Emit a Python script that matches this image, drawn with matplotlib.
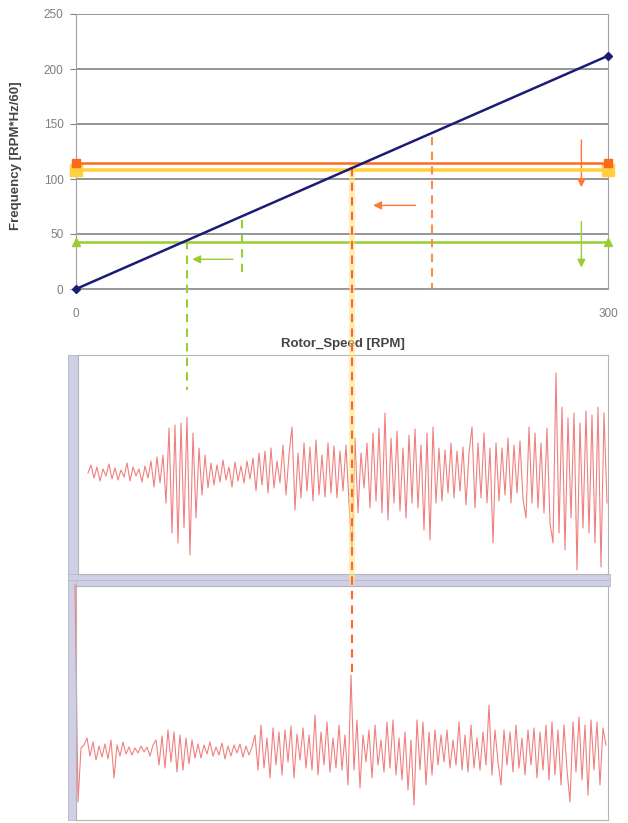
import numpy as np
import matplotlib
matplotlib.use('Agg')
import matplotlib.pyplot as plt

plt.rcParams['font.family'] = ['Liberation Sans', 'DejaVu Sans']

# ---- campbell-type diagram data ----
speed = [0, 300]
freq = [0, 212]
f_orange = 114.5
f_yellow = 108
f_green = 42.5
yticks = [0, 50, 100, 150, 200, 250]
xticks = [0, 300]

# dashed guide lines: (speed, freq top, freq bottom)
dash_orange_long = (155.6, 110, -351)
dash_orange_short = (201, 138, 0)
dash_green_long = (62.6, 44, -92)
dash_green_short = (93.6, 63, 10)

# arrows: (x from, y from, x to, y to)
arrow_orange_left = (193, 76, 166, 76)
arrow_green_left = (90, 27, 64, 27)
arrow_orange_down = (285, 138, 285, 90)
arrow_green_down = (285, 64, 285, 17)

# ---- waveforms (offset from baseline) ----
wave1 = [0, 8, -5, 6, -8, 4, -3, 9, -6, 5, -7, 3, -4, 10, -8, 6, -3, 4, -9, 7, -5,
         12, -14, 16, -10, 18,
         -30, 45, -60, 48, -70, 50, -55, 56, -82, 40, -45,
         25, -22, 18, -15,
         10, -12, 8, -9, 13, -7, 6, -14, 11, -8, 7, -10, 12, -6,
         15, -18, 20, -12, 22, -20, 25, -15, 12, -10, 28, -22, 18,
         46, -37, 20, -25, 30, -18, 26, -28, 33, -22, 18, -24, 30, -20, 27, -25, 22, -18, 28, -30,
         -80, 35, -40, 20,
         -15, 30, -35, 40, -28, 45, -40, 60, -47, 35, -30, 42, -38, 25, -45, 38, -30, 44, -35, 28, -57, 40, -67,
         46, -30, 25, -28, 23, -20, 30, -25, 22, -18, 26, -32, 20,
         46, -35, 30, -25, 40, -30, 25, -70,
         30, -28, 25, -22, 35, -30, 28, -20, 32, -26, -45,
         46, -30, 40, -35, 30, -40, 45, -50, -70,
         100,
         -60, 66, -77, 55, -45, 60, -97, 50,
         -55, 62, -60, 58, -70, 66, -94, 60, -30]

wave2 = [165, -52, 2,
         5, 12, -6, 8, -10, 4, -7, 6, -9, 10, -28, 5, -6, 8, -4, 3, -5, 2, -3, 4, -2, 3, -6, 5,
         10, -15, 14, -18, 20, -12, 18, -22, 15, -20, 12, -14, 10, -8,
         6, -8, 5, -4, 8, -6, 3, -5, 7, -9, 4, -6, 5, -3, 6, -7, 4, -5, 3,
         15, -20, 25, -18, 12, -28, 22, -15, 18, -25, 20, -12, 24, -28, 16, -10,
         22, -18, 15, -20, 35, -25, 18, -15, 28, -22, 12, -18, 25, -20, 15, -35,
         75,
         -20, 30, -38, 15, -12, 20, -28, 25, -15, 10, -22, 28, -18, 30, -25, 12, -30, 18, -40, 10,
         -55,
         30, -20, 28, -35, 18, -25, 20, -15,
         15, -12, 20, -18, 10, -15, 28, -20, 15, -22, 25, -18, 12, -20, 18, -15, 45, -25, 20, -12,
         -35, 20, -15, 18, -22, 25, -18, 12, -25, 20, -15, 22, -28, 18, -20, 25,
         -30, 28, -25, 20, -35, 25, -20, -52,
         28, -22, 33, -30, 25, -45, 30, -20, 28, -35, 22, 5]

W, H = 628, 823
fig = plt.figure(figsize=(W / 100, H / 100), dpi=100)


def rect(x0, y0, x1, y1):
    return [x0 / W, 1 - y1 / H, (x1 - x0) / W, (y1 - y0) / H]


c_orange = '#ff6a1a'
c_yellow = '#ffd040'
c_green = '#9acd32'
c_blue = '#1c1c78'
c_grid = '#8c8c8c'
c_text = '#7f7f7f'
c_wave = '#f08080'
c_strip = '#cfcfe6'

# ---- top chart ----
ax = fig.add_axes(rect(76, 14, 608, 289))
ax.set_zorder(3)
ax.set_xlim(0, 300)
ax.set_ylim(0, 250)
ax.set_yticks(yticks)
ax.set_xticks(xticks)
ax.grid(axis='y', color=c_grid, lw=1.3)
ax.set_axisbelow(True)
ax.spines['top'].set_visible(False)
for s in ['left', 'right', 'bottom']:
    ax.spines[s].set_color('#a0a0a0')
ax.tick_params(axis='y', length=4, color='#808080', labelcolor=c_text, labelsize=8.5, pad=5)
ax.tick_params(axis='x', length=0, labelcolor=c_text, labelsize=8.5, pad=14)

ax.plot(speed, [f_yellow] * 2, color=c_yellow, lw=2.6, marker='s', ms=8, clip_on=False, zorder=4)
ax.plot(speed, [f_orange] * 2, color=c_orange, lw=1.8, marker='s', ms=6, clip_on=False, zorder=4)
ax.plot(speed, [f_green] * 2, color=c_green, lw=1.8, marker='^', ms=6, clip_on=False, zorder=4)

# dashed guides running down into the waveform panels
x, y0, y1 = dash_orange_long
ax.plot([x, x], [y0, -265], color='#ffe680', lw=4, alpha=0.6, clip_on=False, zorder=5)
ax.plot([x, x], [y0, y1], color=c_orange, lw=1.5, ls=(0, (4, 3)), clip_on=False, zorder=5)
for (x, y0, y1), c in [(dash_orange_short, '#ff8c4a'), (dash_green_long, c_green),
                       (dash_green_short, c_green)]:
    ax.plot([x, x], [y0, y1], color=c, lw=1.5, ls=(0, (4, 3)), clip_on=False, zorder=5)

ax.plot(speed, freq, color=c_blue, lw=1.8, marker='D', ms=4, clip_on=False, zorder=6)

for (xa, ya, xb, yb), c in [(arrow_orange_left, '#ff7733'), (arrow_green_left, c_green),
                            (arrow_orange_down, '#ff7733'), (arrow_green_down, c_green)]:
    ax.annotate('', xy=(xb, yb), xytext=(xa, ya),
                arrowprops=dict(arrowstyle='-|>', color=c, lw=1.0, mutation_scale=12))

ax.set_ylabel('Frequency [RPM*Hz/60]', fontsize=9.5, fontweight='bold', color='#444444')
ax.yaxis.set_label_coords(-0.1015, 0.484)
ax.set_xlabel('Rotor_Speed [RPM]', fontsize=9.5, fontweight='bold', color='#444444')
ax.xaxis.set_label_coords(0.502, -0.178)

# ---- waveform panels ----
for r in [rect(68, 355, 78, 580), rect(68, 574, 610, 580),
          rect(68, 580, 610, 586), rect(68, 580, 76, 820)]:
    s = fig.add_axes(r)
    s.set_facecolor(c_strip)
    s.set_xticks([])
    s.set_yticks([])
    for sp in s.spines.values():
        sp.set_color('#b8b8c8')
        sp.set_linewidth(0.6)

p1 = fig.add_axes(rect(78, 355, 608, 574))
i1 = np.arange(len(wave1))
p1.plot(i1, wave1, color=c_wave, lw=0.8)
p1.set_xlim((78 - 88) / 3, (608 - 88) / 3)
p1.set_ylim(-101, 118)

p2 = fig.add_axes(rect(76, 586, 608, 820))
i2 = np.arange(len(wave2))
p2.plot(i2, wave2, color=c_wave, lw=0.8, clip_on=False)
p2.set_xlim((76 - 75) / 3, (608 - 75) / 3)
p2.set_ylim(-70, 164)

for p in [p1, p2]:
    p.set_xticks([])
    p.set_yticks([])
    for sp in p.spines.values():
        sp.set_color('#b4b4b4')
        sp.set_linewidth(0.8)

fig.savefig('out.png', dpi=100)
